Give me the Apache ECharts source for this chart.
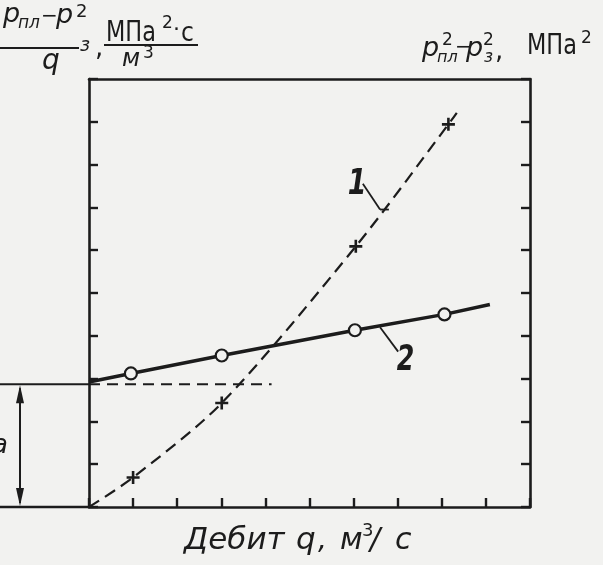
<!DOCTYPE html>
<html><head><meta charset="utf-8">
<script src="https://cdn.jsdelivr.net/npm/echarts@6/dist/echarts.min.js"></script>
<style>html,body{margin:0;padding:0;background:#f2f2f0}#c{width:603px;height:565px}</style>
</head><body><div id="c"></div>
<script>
// Curve 1: p_пл^2 - p_з^2 vs q (dashed, crosses) — right axis
const curve1X = [0, 1.00, 3.01, 6.05, 8.15, 8.34];
const curve1Y = [0, 0.69, 2.43, 6.09, 8.94, 9.21];
const curve1Marked = [false, true, true, true, true, false];
// Curve 2: (p_пл^2 - p_з^2)/q vs q (solid, circles) — left axis
const curve2X = [0, 0.95, 3.01, 6.03, 8.06, 9.09];
const curve2Y = [2.92, 3.12, 3.54, 4.13, 4.50, 4.73];
const curve2Marked = [false, true, true, true, true, false];
// intercept "a"
const interceptA = 2.87;
const interceptLineEndX = 4.14;
// axis ranges (no numeric tick labels in the original)
const xMin = 0, xMax = 10, xStep = 1;
const yMin = 0, yMax = 10, yStep = 1;

const INK = '#1c1c1c', PAPER = '#f2f2f0';
const chart = echarts.init(document.getElementById('c'), null, {renderer: 'canvas'});

const axisCommon = {
  axisLabel: {show: false}, splitLine: {show: false},
  axisLine: {show: true, onZero: false, lineStyle: {color: INK, width: 2.6}},
  axisTick: {show: true, inside: true, length: 9, lineStyle: {color: INK, width: 2.4}}
};
const plus = 'path://M4,0h2v4h4v2h-4v4h-2v-4h-4v-2h4z';

chart.setOption({
  backgroundColor: PAPER,
  animation: false,
  grid: {left: 89, right: 73, top: 79, bottom: 58},
  xAxis: [
    Object.assign({}, axisCommon, {type: 'value', min: xMin, max: xMax, interval: xStep, position: 'bottom'}),
    Object.assign({}, axisCommon, {type: 'value', min: xMin, max: xMax, interval: xStep, position: 'top', axisTick: {show: false}})
  ],
  yAxis: [
    Object.assign({}, axisCommon, {type: 'value', min: yMin, max: yMax, interval: yStep, position: 'left'}),
    Object.assign({}, axisCommon, {type: 'value', min: yMin, max: yMax, interval: yStep, position: 'right'})
  ],
  series: [
    {
      type: 'line', yAxisIndex: 1, smooth: 0.3,
      data: curve1X.map((x, i) => ({value: [x, curve1Y[i]], symbol: curve1Marked[i] ? plus : 'none'})),
      symbolSize: 13,
      lineStyle: {color: INK, width: 2.2, type: [12, 7]},
      itemStyle: {color: INK}
    },
    {
      type: 'line', yAxisIndex: 0,
      data: curve2X.map((x, i) => ({value: [x, curve2Y[i]], symbol: curve2Marked[i] ? 'circle' : 'none'})),
      symbolSize: 12,
      lineStyle: {color: INK, width: 3.5},
      itemStyle: {color: PAPER, borderColor: INK, borderWidth: 2.2}
    },
    {
      type: 'line', yAxisIndex: 0, symbol: 'none',
      data: [[0, interceptA], [interceptLineEndX, interceptA]],
      lineStyle: {color: INK, width: 2, type: [11, 7]}
    }
  ]
});

const P = (x, y) => chart.convertToPixel({gridIndex: 0}, [x, y]);
const pA = P(0, interceptA), p0 = P(0, 0);

function T(x, base, text, size, o) {
  o = o || {};
  return {type: 'text', x: x, y: base - size * 0.32, silent: true, scaleX: o.sx || 1,
    style: {text: text, fill: INK, fontSize: size,
      fontFamily: o.family || 'DejaVu Sans', fontStyle: o.italic ? 'italic' : 'normal',
      fontWeight: o.weight || 'normal', verticalAlign: 'middle', align: o.align || 'left'}};
}
function L(x1, y1, x2, y2, w) {
  return {type: 'line', silent: true, shape: {x1, y1, x2, y2}, style: {stroke: INK, lineWidth: w || 2}};
}
const ax = 20;
const lab1 = P(5.87, 7.55), lab2 = P(6.98, 3.43);
const l1a = P(6.21, 7.55), l1b = P(6.60, 6.95), l1c = P(6.80, 6.95);
const l2a = P(6.60, 4.20), l2b = P(7.01, 3.63);

const g = [
  // gap in the top frame line under "м³"
  {type: 'rect', shape: {x: 125, y: 74, width: 37, height: 9}, style: {fill: PAPER}, silent: true},
  // left extensions
  L(0, pA[1], pA[0], pA[1], 2),
  L(0, p0[1], p0[0], p0[1], 2.6),
  // double arrow "a"
  L(ax, pA[1] + 4, ax, p0[1] - 4, 2),
  {type: 'polygon', silent: true, shape: {points: [[ax, pA[1] + 1], [ax - 4, pA[1] + 19], [ax + 4, pA[1] + 19]]}, style: {fill: INK}},
  {type: 'polygon', silent: true, shape: {points: [[ax, p0[1] - 1], [ax - 4, p0[1] - 19], [ax + 4, p0[1] - 19]]}, style: {fill: INK}},
  T(-8, 455, 'a', 26, {italic: true}),
  // curve labels
  T(lab1[0], lab1[1] + 12, '1', 36, {italic: true, sx: 0.75, weight: 'bold'}),
  L(l1a[0], l1a[1], l1b[0], l1b[1], 1.8), L(l1b[0], l1b[1], l1c[0], l1c[1], 1.8),
  T(lab2[0], lab2[1] + 12, '2', 36, {italic: true, sx: 0.7, weight: 'bold'}),
  L(l2a[0], l2a[1], l2b[0], l2b[1], 1.8),
  // top-left axis title: (p_пл − p_з²)/q, МПа²·с/м³
  T(3, 24, 'p', 27, {italic: true}),
  T(18, 29, 'пл', 17, {italic: true}),
  T(41, 23, '−', 20),
  T(56, 25, 'p', 27, {italic: true}),
  T(76, 18, '2', 18),
  T(80, 52, 'з', 19, {italic: true}),
  L(0, 48, 79, 48, 2.2),
  T(42, 71, 'q', 28, {italic: true}),
  T(95, 58, ',', 26),
  T(106, 43, 'МПа', 28, {sx: 0.8}),
  T(162, 29, '2', 17),
  T(173, 37, '·', 22),
  T(181, 43, 'с', 26, {sx: 0.9}),
  L(104, 45, 198, 45, 2.2),
  T(122, 67, 'м', 24, {italic: true}),
  T(143, 59, '3', 17),
  // top-right axis title: p²пл − p²з, МПа²
  T(422, 58, 'p', 27, {italic: true}),
  T(442, 46, '2', 17),
  T(437, 63, 'пл', 16, {italic: true}),
  T(455, 54, '−', 20),
  T(466, 58, 'p', 27, {italic: true}),
  T(483, 46, '2', 17),
  T(484, 63, 'з', 17, {italic: true}),
  T(495, 61, ',', 26),
  T(527, 56, 'МПа', 28, {sx: 0.8}),
  T(581, 44, '2', 17),
  // x-axis title: Дебит q, м³/с
  T(184, 551, 'Дебит', 31, {italic: true}),
  T(296, 551, 'q', 31, {italic: true}),
  T(318, 551, ',', 28, {italic: true}),
  T(340, 551, 'м', 30, {italic: true}),
  T(362, 537, '3', 18),
  T(370, 551, '/', 30, {italic: true}),
  T(395, 551, 'с', 30, {italic: true})
];
chart.setOption({graphic: g});
</script></body></html>
